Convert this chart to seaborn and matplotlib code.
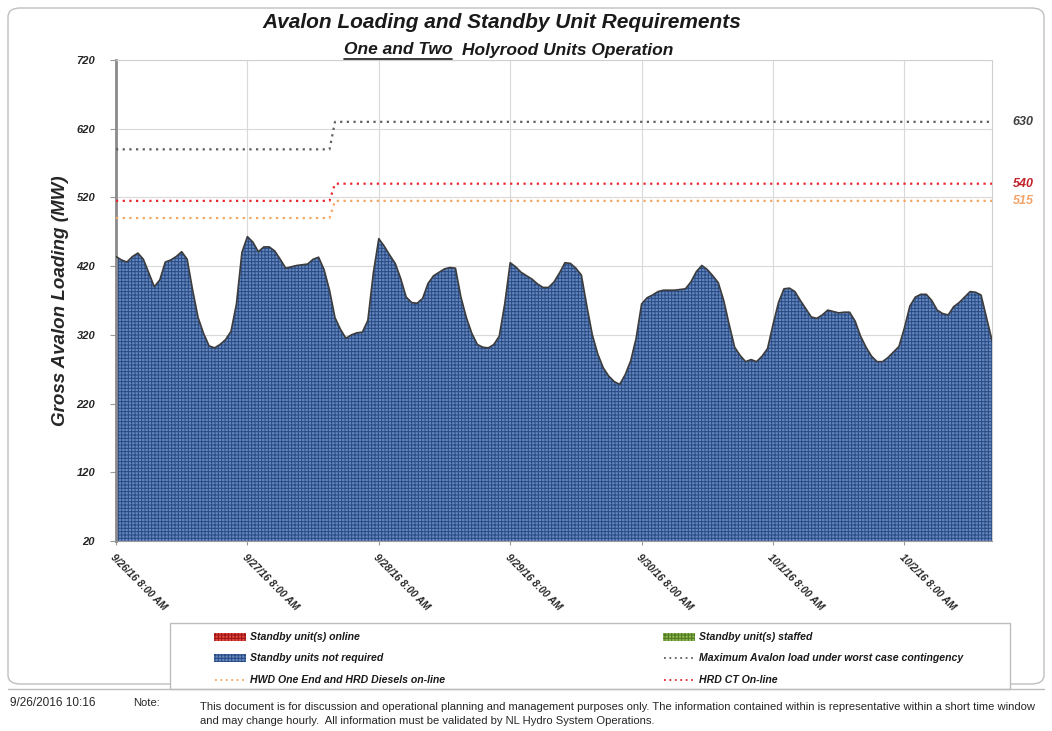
import numpy as np
import pandas as pd
import matplotlib
matplotlib.use("Agg")
import matplotlib.pyplot as plt
import seaborn as sns
from matplotlib.patches import Rectangle, FancyBboxPatch
from matplotlib.lines import Line2D

# ---------------- data ----------------
start_time = "2016-09-26 08:00"
gross_load_mw = [
    434, 429, 426, 434, 439, 430, 410, 390, 400, 426,
    429, 434, 441, 430, 385, 345, 322, 304, 301, 306,
    313, 325, 365, 440, 463, 455, 441, 448, 448, 442,
    430, 417, 419, 421, 422, 423, 430, 433, 415, 385,
    345, 328, 315, 320, 323, 324, 341, 410, 460, 449,
    436, 424, 402, 375, 367, 366, 373, 395, 406, 411,
    416, 418, 417, 375, 345, 322, 306, 302, 301, 306,
    318, 365, 425, 419, 411, 406, 401, 394, 389, 389,
    397, 410, 425, 424, 417, 407, 362, 320, 292, 272,
    260, 252, 248, 262, 282, 315, 365, 374, 378, 383,
    385, 385, 385, 386, 387, 397, 412, 421, 415, 406,
    396, 370, 335, 302, 290, 281, 284, 281, 289, 300,
    335, 367, 387, 388, 383, 370, 358, 346, 344, 349,
    356, 354, 352, 353, 353, 340, 318, 302, 289, 281,
    281, 287, 295, 303, 330, 362, 375, 379, 379, 370,
    356, 351, 349, 361, 367, 375, 383, 382, 378, 345,
    312,
]

step_times = ["2016-09-26 08:00", "2016-09-27 23:00", "2016-09-28 00:00", "2016-10-03 00:00"]
max_load_mw = [590, 590, 630, 630]      # Maximum Avalon load under worst case contingency
hrd_ct_mw = [515, 515, 540, 540]        # HRD CT On-line
hwd_diesel_mw = [490, 490, 515, 515]    # HWD One End and HRD Diesels on-line

tick_times = ["2016-09-26 08:00", "2016-09-27 08:00", "2016-09-28 08:00", "2016-09-29 08:00",
              "2016-09-30 08:00", "2016-10-01 08:00", "2016-10-02 08:00"]
tick_labels = ["9/26/16 8:00 AM", "9/27/16 8:00 AM", "9/28/16 8:00 AM", "9/29/16 8:00 AM",
               "9/30/16 8:00 AM", "10/1/16 8:00 AM", "10/2/16 8:00 AM"]
y_ticks = [20, 120, 220, 320, 420, 520, 620, 720]
end_labels = ["630", "540", "515"]
end_values = [630, 540, 515]

title = "Avalon Loading and Standby Unit Requirements"
subtitle_a = "One and Two"
subtitle_b = "Holyrood Units Operation"
y_label = "Gross Avalon Loading (MW)"
legend_labels = ["Standby unit(s) online", "Standby units not required",
                 "HWD One End and HRD Diesels on-line", "Standby unit(s) staffed",
                 "Maximum Avalon load under worst case contingency", "HRD CT On-line"]
stamp = "9/26/2016 10:16"
note_label = "Note:"
note_lines = ["This document is for discussion and operational planning and management purposes only. The information contained within is representative within a short time window",
              "and may change hourly.  All information must be validated by NL Hydro System Operations."]

# ---------------- style ----------------
sns.set_theme(style="white")
FAM = ["Liberation Sans Narrow", "Liberation Sans", "DejaVu Sans"]
plt.rcParams["font.family"] = FAM
plt.rcParams["hatch.linewidth"] = 0.7

W, H = 1052, 731
fig = plt.figure(figsize=(W / 100, H / 100), dpi=100)
fig.patch.set_facecolor("white")

def fx(px):
    return px / W

def fy(py):
    return 1 - py / H

# outer rounded frame
fig.add_artist(FancyBboxPatch((fx(8), fy(684)), fx(1044) - fx(8), fy(8) - fy(684),
                              boxstyle="round,pad=0,rounding_size=0.012",
                              transform=fig.transFigure, facecolor="none",
                              edgecolor="#bfbfbf", lw=1.0))

ax = fig.add_axes([fx(116), fy(541), fx(992) - fx(116), fy(60) - fy(541)])

times = pd.date_range(start_time, periods=len(gross_load_mw), freq="h")
st = pd.to_datetime(step_times)

BLUE_FACE = "#6487c0"
BLUE_HATCH = "#2a4a82"
ax.fill_between(times, 20, gross_load_mw, facecolor=BLUE_FACE, edgecolor=BLUE_HATCH,
                hatch="+++++", linewidth=0, zorder=2)
sns.lineplot(x=times, y=gross_load_mw, color="#3d3d3d", lw=1.2, ax=ax, zorder=3)

GRAY_DOT = "#5f5f5f"
RED_DOT = "#e8262d"
ORANGE_DOT = "#f5a55e"
dots = (0, (1, 2))
sns.lineplot(x=st, y=max_load_mw, color=GRAY_DOT, lw=1.6, linestyle=dots, ax=ax, zorder=4)
sns.lineplot(x=st, y=hrd_ct_mw, color=RED_DOT, lw=1.6, linestyle=dots, ax=ax, zorder=4)
sns.lineplot(x=st, y=hwd_diesel_mw, color=ORANGE_DOT, lw=1.6, linestyle=dots, ax=ax, zorder=4)

ax.set_xlim(times[0], times[-1])
ax.set_ylim(20, 720)
ax.set_yticks(y_ticks)
ax.set_yticklabels([str(v) for v in y_ticks])
ax.set_xticks(pd.to_datetime(tick_times))
ax.set_xticklabels(tick_labels, rotation=-45, ha="left", va="top", rotation_mode="anchor")
ax.set_axisbelow(True)
ax.grid(True, color="#d9d9d9", lw=0.8)
ax.set_xlabel("")
ax.set_ylabel(y_label, fontsize=13.5, fontweight="bold", fontstyle="italic",
              color="#262626", labelpad=5)
for lab in ax.get_yticklabels():
    lab.set_fontsize(8)
for lab in ax.get_xticklabels():
    lab.set_fontsize(7.2)
for lab in ax.get_yticklabels() + ax.get_xticklabels():
    lab.set_fontweight("bold")
    lab.set_fontstyle("italic")
    lab.set_color("#262626")
ax.tick_params(axis="y", which="major", length=4, width=0.8, color="#9a9a9a", pad=11, left=True)
ax.tick_params(axis="x", which="major", length=3, width=0.8, color="#9a9a9a", pad=5, bottom=True)
for s in ["top", "right"]:
    ax.spines[s].set_color("#d0d0d0")
    ax.spines[s].set_linewidth(0.8)
ax.spines["left"].set_color("#8a8a8a")
ax.spines["left"].set_linewidth(2.0)
ax.spines["bottom"].set_color("#9a9a9a")
ax.spines["bottom"].set_linewidth(0.8)

# right-side value labels
end_colors = ["#3f3f3f", "#c0202a", "#f2a46a"]
for lab, v, c in zip(end_labels, end_values, end_colors):
    ax.annotate(lab, xy=(1, v), xycoords=("axes fraction", "data"), xytext=(15, 0),
                textcoords="offset points", ha="left", va="center", fontsize=9,
                fontweight="bold", fontstyle="italic", color=c)

# titles
fig.text(fx(502), fy(23), title, ha="center", va="center", fontsize=15,
         fontweight="bold", fontstyle="italic", color="#1a1a1a")
ta = fig.text(fx(452), fy(50), subtitle_a, ha="right", va="center", fontsize=12.5,
              fontweight="bold", fontstyle="italic", color="#1a1a1a")
fig.text(fx(462), fy(50), subtitle_b, ha="left", va="center", fontsize=12.5,
         fontweight="bold", fontstyle="italic", color="#1a1a1a")

# legend box
fig.add_artist(Rectangle((fx(170), fy(689)), fx(1010) - fx(170), fy(623) - fy(689),
                         transform=fig.transFigure, facecolor="white",
                         edgecolor="#bdbdbd", lw=1.0))
fig.add_artist(Line2D([fx(8), fx(1044)], [fy(689), fy(689)], transform=fig.transFigure,
                      color="#bdbdbd", lw=1.0))
leg_font = dict(fontsize=7.6, fontweight="bold", fontstyle="italic", color="#1a1a1a",
                va="center", ha="left")
rows = [637, 658, 680]
col_x = [214, 663]
sw = 32
def swatch(x, y, face, hatchc):
    fig.add_artist(Rectangle((fx(x), fy(y + 4)), fx(sw), fy(0) - fy(8),
                             transform=fig.transFigure, facecolor=face,
                             edgecolor=hatchc, hatch="+++++", lw=0))
def dotline(x, y, c):
    fig.add_artist(Line2D([fx(x + 1), fx(x + sw)], [fy(y), fy(y)], transform=fig.transFigure,
                          color=c, lw=1.3, linestyle=dots))
swatch(col_x[0], rows[0], "#e0473f", "#9c1414")
swatch(col_x[0], rows[1], BLUE_FACE, BLUE_HATCH)
dotline(col_x[0], rows[2], ORANGE_DOT)
swatch(col_x[1], rows[0], "#8fb552", "#4d7a1f")
dotline(col_x[1], rows[1], GRAY_DOT)
dotline(col_x[1], rows[2], RED_DOT)
for i, lab in enumerate(legend_labels):
    c = i // 3
    r = i % 3
    fig.text(fx(col_x[c] + sw + 4), fy(rows[r]), lab, **leg_font)

# footer
foot = dict(fontsize=8.1, color="#262626", va="center", ha="left")
fig.text(fx(10), fy(703), stamp, fontsize=8.5, color="#262626", va="center", ha="left")
fig.text(fx(133), fy(703), note_label, **foot)
fig.text(fx(200), fy(707), note_lines[0], **foot)
fig.text(fx(200), fy(721), note_lines[1], **foot)

# underline for first part of subtitle
fig.canvas.draw()
bb = ta.get_window_extent(renderer=fig.canvas.get_renderer())
fig.add_artist(Line2D([bb.x0 / W, bb.x1 / W], [(bb.y0 - 1) / H, (bb.y0 - 1) / H],
                      transform=fig.transFigure, color="#1a1a1a", lw=1.2))

fig.savefig("out.png", dpi=100, facecolor="white")
